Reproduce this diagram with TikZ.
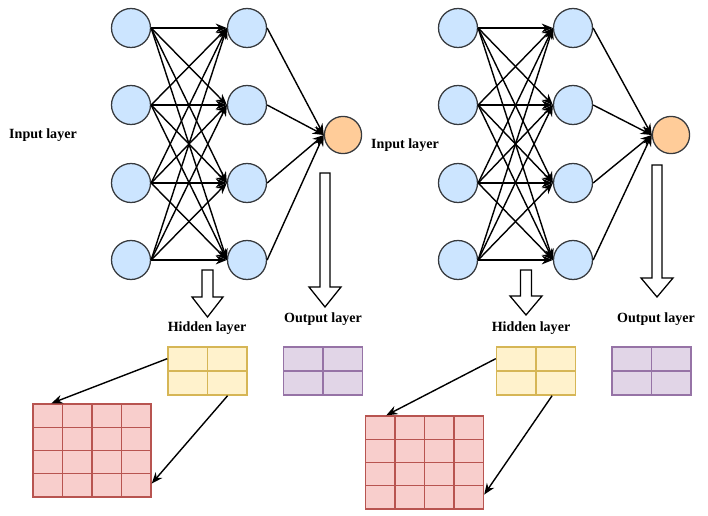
\documentclass[tikz,border=0pt]{standalone}
\usepackage{fontspec}
\setmainfont{Liberation Serif}
\usetikzlibrary{arrows.meta,calc}

\definecolor{nodeblue}{HTML}{CCE5FF}
\definecolor{nodeorange}{HTML}{FFCC99}
\definecolor{nodeline}{HTML}{36393D}
\definecolor{yellowfill}{HTML}{FFF2CC}
\definecolor{yellowline}{HTML}{D6B656}
\definecolor{purplefill}{HTML}{E1D5E7}
\definecolor{purpleline}{HTML}{9673A6}
\definecolor{redfill}{HTML}{F8CECC}
\definecolor{redline}{HTML}{B85450}

\tikzset{
  neuron/.style={circle, draw=nodeline, line width=0.9pt, fill=nodeblue, minimum size=0.975cm, inner sep=0pt},
  outneuron/.style={neuron, fill=nodeorange, minimum size=0.93cm},
  layerlabel/.style={font=\fontsize{10}{12}\selectfont\bfseries, inner sep=0pt},
  link/.style={-{Stealth[length=2.8mm,width=2.2mm]}, line width=1pt, black},
  hollow/.style={draw=black, line width=0.9pt, fill=white},
  gridtwo/.style={rectangle, line width=1pt, inner sep=0pt, minimum width=1.975cm, minimum height=1.2cm,
    path picture={\draw[line width=1pt] (path picture bounding box.north) -- (path picture bounding box.south)
      (path picture bounding box.west) -- (path picture bounding box.east);}},
  gridfour/.style={rectangle, line width=1pt, inner sep=0pt, minimum width=2.95cm, minimum height=2.325cm,
    path picture={\foreach \t in {0.25,0.5,0.75}{
      \draw[line width=1pt] ($(path picture bounding box.north west)!\t!(path picture bounding box.north east)$)
        -- ($(path picture bounding box.south west)!\t!(path picture bounding box.south east)$);
      \draw[line width=1pt] ($(path picture bounding box.north west)!\t!(path picture bounding box.south west)$)
        -- ($(path picture bounding box.north east)!\t!(path picture bounding box.south east)$);}}},
  hidgrid/.style={gridtwo, color=yellowline, draw=yellowline, fill=yellowfill},
  outgrid/.style={gridtwo, color=purpleline, draw=purpleline, fill=purplefill},
  biggrid/.style={gridfour, color=redline, draw=redline, fill=redfill}
}

\begin{document}
\begin{tikzpicture}[scale=0.25]
\useasboundingbox (0,0) rectangle (70.8,-51.5);
% left network
\node [neuron] (li1) at (13.1,-2.8) {};
\node [neuron] (li2) at (13.1,-10.5) {};
\node [neuron] (li3) at (13.1,-18.3) {};
\node [neuron] (li4) at (13.1,-26.0) {};
\node [neuron] (lh1) at (24.7,-2.8) {};
\node [neuron] (lh2) at (24.7,-10.5) {};
\node [neuron] (lh3) at (24.7,-18.3) {};
\node [neuron] (lh4) at (24.7,-26.0) {};
\node [outneuron] (lo) at (34.3,-13.5) {};
\node [layerlabel] (lin) at (4.3,-13.5) {Input layer};
\draw [link] (li1.east) -- (lh1.west); \draw [link] (li1.east) -- (lh2.west); \draw [link] (li1.east) -- (lh3.west); \draw [link] (li1.east) -- (lh4.west);
\draw [link] (li2.east) -- (lh1.west); \draw [link] (li2.east) -- (lh2.west); \draw [link] (li2.east) -- (lh3.west); \draw [link] (li2.east) -- (lh4.west);
\draw [link] (li3.east) -- (lh1.west); \draw [link] (li3.east) -- (lh2.west); \draw [link] (li3.east) -- (lh3.west); \draw [link] (li3.east) -- (lh4.west);
\draw [link] (li4.east) -- (lh1.west); \draw [link] (li4.east) -- (lh2.west); \draw [link] (li4.east) -- (lh3.west); \draw [link] (li4.east) -- (lh4.west);
\draw [link] (lh1.east) -- (lo.west); \draw [link] (lh2.east) -- (lo.west); \draw [link] (lh3.east) -- (lo.west); \draw [link] (lh4.east) -- (lo.west);
% left hollow arrows
\draw [hollow] (20.2,-27.0) -- (21.3,-27.0) -- (21.3,-29.7) -- (22.3,-29.7) -- (20.75,-31.7)
  -- (19.2,-29.7) -- (20.2,-29.7) -- cycle;
\draw [hollow] (32.0,-17.3) -- (33.0,-17.3) -- (33.0,-28.7) -- (34.1,-28.7) -- (32.5,-30.7)
  -- (30.9,-28.7) -- (32.0,-28.7) -- cycle;
\node [layerlabel] (lhl) at (20.7,-32.8) {Hidden layer};
\node [layerlabel] (lol) at (32.3,-31.9) {Output layer};
% left grids
\node [hidgrid] (ly) at (20.75,-37.1) {};
\node [outgrid] (lp) at (32.3,-37.1) {};
\node [biggrid] (lr) at (9.2,-45.05) {};
\draw [link] ($(ly.north west)!0.25!(ly.south west)$) -- ($(lr.north west)!0.16!(lr.north east)$);
\draw [link] ($(ly.south west)!0.75!(ly.south east)$) -- ($(lr.north east)!0.85!(lr.south east)$);
% right network
\node [neuron] (ri1) at (45.8,-2.8) {};
\node [neuron] (ri2) at (45.8,-10.5) {};
\node [neuron] (ri3) at (45.8,-18.3) {};
\node [neuron] (ri4) at (45.8,-26.0) {};
\node [neuron] (rh1) at (57.3,-2.8) {};
\node [neuron] (rh2) at (57.3,-10.5) {};
\node [neuron] (rh3) at (57.3,-18.3) {};
\node [neuron] (rh4) at (57.3,-26.0) {};
\node [outneuron] (ro) at (67.1,-13.5) {};
\node [layerlabel] (rin) at (40.5,-14.5) {Input layer};
\draw [link] (ri1.east) -- (rh1.west); \draw [link] (ri1.east) -- (rh2.west); \draw [link] (ri1.east) -- (rh3.west); \draw [link] (ri1.east) -- (rh4.west);
\draw [link] (ri2.east) -- (rh1.west); \draw [link] (ri2.east) -- (rh2.west); \draw [link] (ri2.east) -- (rh3.west); \draw [link] (ri2.east) -- (rh4.west);
\draw [link] (ri3.east) -- (rh1.west); \draw [link] (ri3.east) -- (rh2.west); \draw [link] (ri3.east) -- (rh3.west); \draw [link] (ri3.east) -- (rh4.west);
\draw [link] (ri4.east) -- (rh1.west); \draw [link] (ri4.east) -- (rh2.west); \draw [link] (ri4.east) -- (rh3.west); \draw [link] (ri4.east) -- (rh4.west);
\draw [link] (rh1.east) -- (ro.west); \draw [link] (rh2.east) -- (ro.west); \draw [link] (rh3.east) -- (ro.west); \draw [link] (rh4.east) -- (ro.west);
% right hollow arrows
\draw [hollow] (52.05,-27.0) -- (53.15,-27.0) -- (53.15,-29.6) -- (54.2,-29.6) -- (52.6,-31.5)
  -- (51.0,-29.6) -- (52.05,-29.6) -- cycle;
\draw [hollow] (65.2,-16.5) -- (66.2,-16.5) -- (66.2,-27.8) -- (67.3,-27.8) -- (65.7,-29.7)
  -- (64.1,-27.8) -- (65.2,-27.8) -- cycle;
\node [layerlabel] (rhl) at (53.1,-32.8) {Hidden layer};
\node [layerlabel] (rol) at (65.6,-31.9) {Output layer};
% right grids
\node [hidgrid] (ry) at (53.6,-37.1) {};
\node [outgrid] (rp) at (65.15,-37.1) {};
\node [biggrid] (rr) at (42.45,-46.25) {};
\draw [link] ($(ry.north west)!0.25!(ry.south west)$) -- ($(rr.north west)!0.18!(rr.north east)$);
\draw [link] ($(ry.south west)!0.7!(ry.south east)$) -- ($(rr.north east)!0.84!(rr.south east)$);
\end{tikzpicture}
\end{document}
